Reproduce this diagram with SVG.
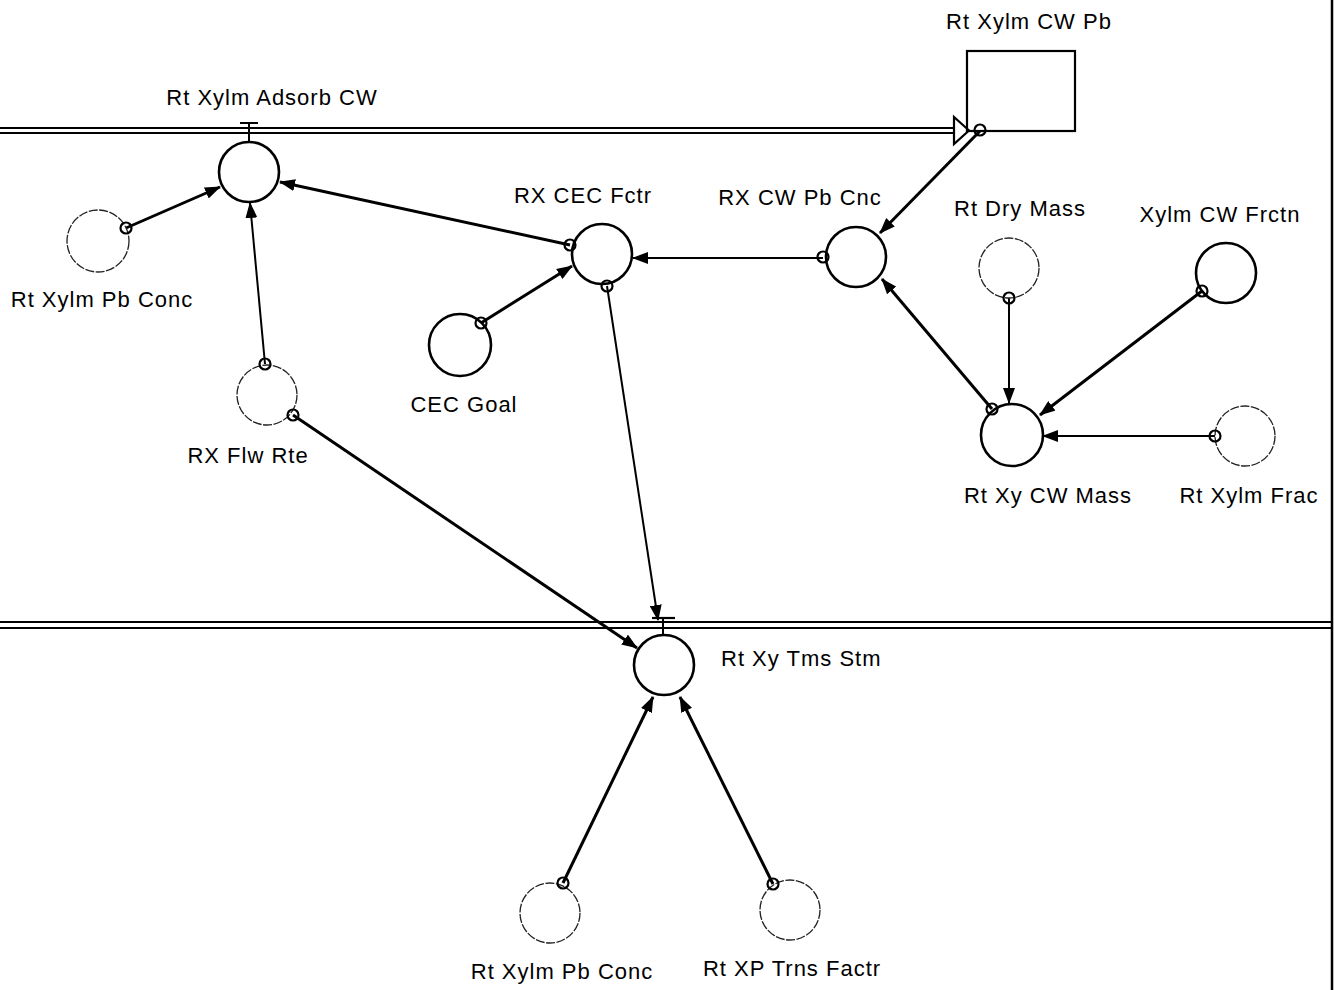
<svg xmlns="http://www.w3.org/2000/svg" width="1334" height="990" viewBox="0 0 1334 990">
<defs>
<marker id="ah" viewBox="0 0 16 12" refX="15" refY="6" markerWidth="16" markerHeight="12" markerUnits="userSpaceOnUse" orient="auto">
<path d="M0,0 L16,6 L0,12 Z" fill="#000"/>
</marker>
</defs>
<style>
text{font-family:"Liberation Sans",Arial,sans-serif;font-size:22px;letter-spacing:1px;fill:#000}
.aux{fill:none;stroke:#000;stroke-width:2.6}
.auxl{fill:none;stroke:#222;stroke-width:1.3;stroke-dasharray:9 1.5}
.dot{fill:none;stroke:#000;stroke-width:2.2}
.lk{fill:none;stroke:#000;stroke-width:3;marker-end:url(#ah)}
.lkt{fill:none;stroke:#000;stroke-width:2;marker-end:url(#ah)}
.pipe{fill:none;stroke:#000;stroke-width:2}
</style>
<rect width="1334" height="990" fill="#fff"/>
<line x1="1332" y1="0" x2="1332" y2="990" stroke="#000" stroke-width="2.5"/>

<g id="pipes">
<line class="pipe" x1="0" y1="128" x2="956" y2="128"/>
<line class="pipe" x1="0" y1="133" x2="956" y2="133"/>
<path d="M954,117 L969,130.5 L954,144 Z" fill="#fff" stroke="#000" stroke-width="2.2"/>
<line class="pipe" x1="0" y1="622" x2="1332" y2="622" stroke-width="2.5"/>
<line class="pipe" x1="0" y1="628" x2="1332" y2="628" stroke-width="2.5"/>
</g>

<g id="connectors">
<line class="lk" x1="126" y1="228" x2="220" y2="187"/>
<line class="lkt" x1="265" y1="364" x2="250" y2="203"/>
<line class="lk" x1="570" y1="245" x2="280" y2="182"/>
<line class="lk" x1="481" y1="323" x2="572" y2="266"/>
<line class="lkt" x1="823" y1="258" x2="633" y2="258"/>
<line class="lk" x1="980" y1="131" x2="880" y2="233"/>
<line class="lk" x1="992" y1="409" x2="882" y2="279"/>
<line class="lkt" x1="1009" y1="298" x2="1009" y2="403"/>
<line class="lk" x1="1202" y1="291" x2="1040" y2="415"/>
<line class="lkt" x1="1215" y1="436" x2="1043" y2="436"/>
<line class="lkt" x1="607" y1="286" x2="658" y2="620"/>
<line class="lk" x1="293" y1="415" x2="637" y2="648"/>
<line class="lk" x1="563" y1="883" x2="653" y2="697"/>
<line class="lk" x1="773" y1="884" x2="680" y2="697"/>
</g>

<g id="stock-rt-xylm-cw-pb">
<rect x="967" y="51" width="108" height="80" fill="none" stroke="#000" stroke-width="2.2"/>
<circle class="dot" cx="980" cy="130" r="5.5"/>
<text x="1029" y="29" text-anchor="middle">Rt Xylm CW Pb</text>
</g>

<g id="flow-rt-xylm-adsorb-cw">
<line x1="240" y1="123" x2="258" y2="123" stroke="#000" stroke-width="2"/>
<line x1="249" y1="123" x2="249" y2="142" stroke="#000" stroke-width="2"/>
<circle class="aux" cx="249" cy="172" r="30"/>
<text x="272" y="105" text-anchor="middle">Rt Xylm Adsorb CW</text>
</g>

<g id="rt-xylm-pb-conc-1">
<circle class="auxl" cx="98" cy="241" r="31"/>
<circle class="dot" cx="126" cy="228" r="5.5"/>
<text x="102" y="307" text-anchor="middle">Rt Xylm Pb Conc</text>
</g>

<g id="rx-flw-rte">
<circle class="auxl" cx="267" cy="395" r="30"/>
<circle class="dot" cx="265" cy="364" r="5.5"/>
<circle class="dot" cx="293" cy="415" r="5.5"/>
<text x="248" y="463" text-anchor="middle">RX Flw Rte</text>
</g>

<g id="rx-cec-fctr">
<circle class="aux" cx="602" cy="254" r="30"/>
<circle class="dot" cx="570" cy="245" r="5.5"/>
<circle class="dot" cx="607" cy="286" r="5.5"/>
<text x="583" y="203" text-anchor="middle">RX CEC Fctr</text>
</g>

<g id="cec-goal">
<circle class="aux" cx="460" cy="345" r="31"/>
<circle class="dot" cx="481" cy="323" r="5.5"/>
<text x="464" y="412" text-anchor="middle">CEC Goal</text>
</g>

<g id="rx-cw-pb-cnc">
<circle class="aux" cx="856" cy="257" r="30"/>
<circle class="dot" cx="823" cy="257" r="5.5"/>
<text x="800" y="205" text-anchor="middle">RX CW Pb Cnc</text>
</g>

<g id="rt-dry-mass">
<circle class="auxl" cx="1009" cy="268" r="30"/>
<circle class="dot" cx="1009" cy="298" r="5.5"/>
<text x="1020" y="216" text-anchor="middle">Rt Dry Mass</text>
</g>

<g id="xylm-cw-frctn">
<circle class="aux" cx="1226" cy="273" r="30"/>
<circle class="dot" cx="1202" cy="291" r="5.5"/>
<text x="1220" y="222" text-anchor="middle">Xylm CW Frctn</text>
</g>

<g id="rt-xy-cw-mass">
<circle class="aux" cx="1012" cy="435" r="31"/>
<circle class="dot" cx="992" cy="409" r="5.5"/>
<text x="1048" y="503" text-anchor="middle">Rt Xy CW Mass</text>
</g>

<g id="rt-xylm-frac">
<circle class="auxl" cx="1245" cy="436" r="30"/>
<circle class="dot" cx="1215" cy="436" r="5.5"/>
<text x="1249" y="503" text-anchor="middle">Rt Xylm Frac</text>
</g>

<g id="flow-rt-xy-tms-stm">
<line x1="652" y1="618" x2="675" y2="618" stroke="#000" stroke-width="2.2"/>
<line x1="663" y1="618" x2="663" y2="635" stroke="#000" stroke-width="2"/>
<circle class="aux" cx="664" cy="665" r="30"/>
<text x="721" y="666">Rt Xy Tms Stm</text>
</g>

<g id="rt-xylm-pb-conc-2">
<circle class="auxl" cx="550" cy="913" r="30"/>
<circle class="dot" cx="563" cy="883" r="5.5"/>
<text x="562" y="979" text-anchor="middle">Rt Xylm Pb Conc</text>
</g>

<g id="rt-xp-trns-factr">
<circle class="auxl" cx="790" cy="910" r="30"/>
<circle class="dot" cx="773" cy="884" r="5.5"/>
<text x="792" y="976" text-anchor="middle">Rt XP Trns Factr</text>
</g>
</svg>
